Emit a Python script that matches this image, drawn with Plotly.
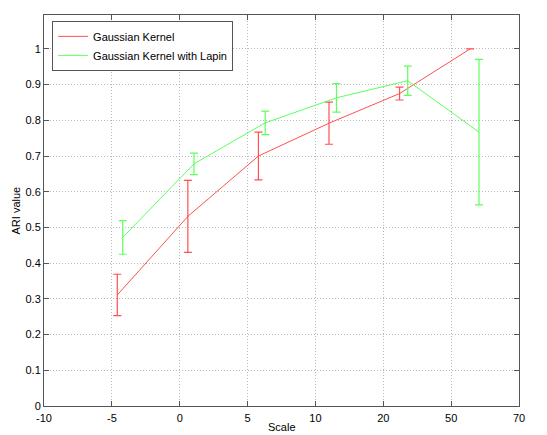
import plotly.graph_objects as go

tick_labels = ["-10", "-5", "0", "5", "10", "20", "50", "70"]
tick_pos = [0, 1, 2, 3, 4, 5, 6, 7]

# Gaussian Kernel
gk_x = [1.08, 2.12, 3.16, 4.20, 5.24, 6.28]
gk_y = [0.311, 0.531, 0.700, 0.792, 0.875, 1.000]
gk_err = [0.058, 0.101, 0.067, 0.059, 0.018, 0.0]

# Gaussian Kernel with Lapin
gl_x = [1.16, 2.21, 3.26, 4.31, 5.36, 6.41]
gl_y = [0.472, 0.678, 0.793, 0.863, 0.911, 0.767]
gl_err = [0.047, 0.030, 0.033, 0.040, 0.041, 0.204]

red = "#ff5050"
green = "#5cff5c"

fig = go.Figure()
fig.add_trace(go.Scatter(
    x=gk_x, y=gk_y, mode="lines", name="Gaussian Kernel",
    line=dict(color=red, width=1),
    error_y=dict(type="data", array=gk_err, color=red, thickness=1.2, width=4),
))
fig.add_trace(go.Scatter(
    x=gl_x, y=gl_y, mode="lines", name="Gaussian Kernel with Lapin",
    line=dict(color=green, width=1),
    error_y=dict(type="data", array=gl_err, color=green, thickness=1.2, width=4),
))

axis_common = dict(
    showline=True, linecolor="#555555", linewidth=1, mirror="ticks",
    ticks="inside", ticklen=5, tickcolor="#555555",
    showgrid=True, gridcolor="#b8b8b8", griddash="1px,2px", gridwidth=1,
    zeroline=False, automargin=False,
    tickfont=dict(family="Liberation Sans, Arial", size=11, color="#000000"),
)

fig.update_xaxes(range=[0, 7], tickvals=tick_pos, ticktext=tick_labels,
                 ticklabelstandoff=2, **axis_common)
fig.update_yaxes(range=[0, 1.095], tickvals=[i / 10 for i in range(11)],
                 ticktext=["0", "0.1", "0.2", "0.3", "0.4", "0.5", "0.6", "0.7", "0.8", "0.9", "1"],
                 **axis_common)

fig.update_layout(
    width=547, height=435,
    margin=dict(l=44, r=28, t=15, b=29),
    paper_bgcolor="white", plot_bgcolor="white",
    font=dict(family="Liberation Sans, Arial", size=11, color="#000000"),
    showlegend=True,
    legend=dict(x=0.017, y=0.985, xanchor="left", yanchor="top",
                bgcolor="white", bordercolor="#555555", borderwidth=1,
                font=dict(size=11), tracegroupgap=0, itemwidth=30),
    annotations=[
        dict(text="Scale", x=0.5, y=-0.054, xref="paper", yref="paper",
             showarrow=False, xanchor="center", yanchor="middle", font=dict(size=11)),
        dict(text="ARI value", x=-0.059, y=0.5, xref="paper", yref="paper",
             showarrow=False, textangle=-90, xanchor="center", yanchor="middle", font=dict(size=11)),
    ],
)

fig.write_html("out.html")
